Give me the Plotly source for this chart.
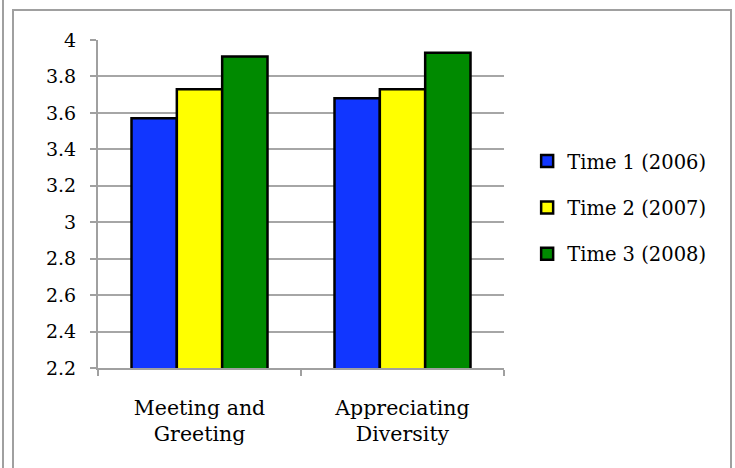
import plotly.graph_objects as go

categories = ["Meeting and<br>Greeting", "Appreciating<br>Diversity"]
series_names = ["Time 1 (2006)", "Time 2 (2007)", "Time 3 (2008)"]
time1 = [3.57, 3.68]
time2 = [3.73, 3.73]
time3 = [3.91, 3.93]
y_ticks = [2.2, 2.4, 2.6, 2.8, 3.0, 3.2, 3.4, 3.6, 3.8, 4.0]
y_tick_labels = ["2.2", "2.4", "2.6", "2.8", "3", "3.2", "3.4", "3.6", "3.8", "4"]

colors = ["#1136FF", "#FFFF00", "#008A00"]
FONT = "DejaVu Serif, Liberation Serif, serif"
FS = 19

fig = go.Figure()
for name, vals, col in zip(series_names, [time1, time2, time3], colors):
    fig.add_trace(go.Bar(
        x=categories, y=vals, name=name, legendgroup=name,
        marker=dict(color=col, line=dict(color="black", width=2.5)),
    ))

fig.update_layout(
    width=735, height=468,
    margin=dict(l=98, r=231, t=40, b=100),
    paper_bgcolor="white", plot_bgcolor="white",
    font=dict(family=FONT, size=FS, color="black"),
    barmode="group", bargap=0.33, bargroupgap=0,
    showlegend=True,
    legend=dict(x=1.057, xanchor="left", y=0.488, yanchor="middle",
                font=dict(family=FONT, size=19.5), tracegroupgap=18,
                traceorder="grouped", itemwidth=30),
    xaxis=dict(showgrid=False, showline=True, linecolor="#a0a0a0", linewidth=2,
               ticks="outside", tickson="boundaries", ticklen=6, tickcolor="#a0a0a0",
               tickwidth=2, tickfont=dict(family=FONT, size=20.5), ticklabelstandoff=20),
    yaxis=dict(range=[2.2, 4.0], tickvals=y_ticks, ticktext=y_tick_labels,
               showgrid=True, gridcolor="#a6a6a6", gridwidth=2,
               showline=True, linecolor="#a0a0a0", linewidth=2,
               ticks="outside", ticklen=6, tickcolor="#a0a0a0", tickwidth=2,
               tickfont=dict(family=FONT, size=FS), zeroline=False, ticklabelstandoff=10),
    shapes=[
        dict(type="rect", xref="paper", yref="paper", x0=-85/406, x1=(731-98)/406,
             y0=-0.5, y1=(368-10)/328, line=dict(color="#a0a0a0", width=2)),
        dict(type="line", xref="paper", yref="paper", x0=-95/406, x1=-95/406,
             y0=-0.5, y1=1.3, line=dict(color="#a0a0a0", width=2)),
    ],
)

fig.write_html("out.html")
